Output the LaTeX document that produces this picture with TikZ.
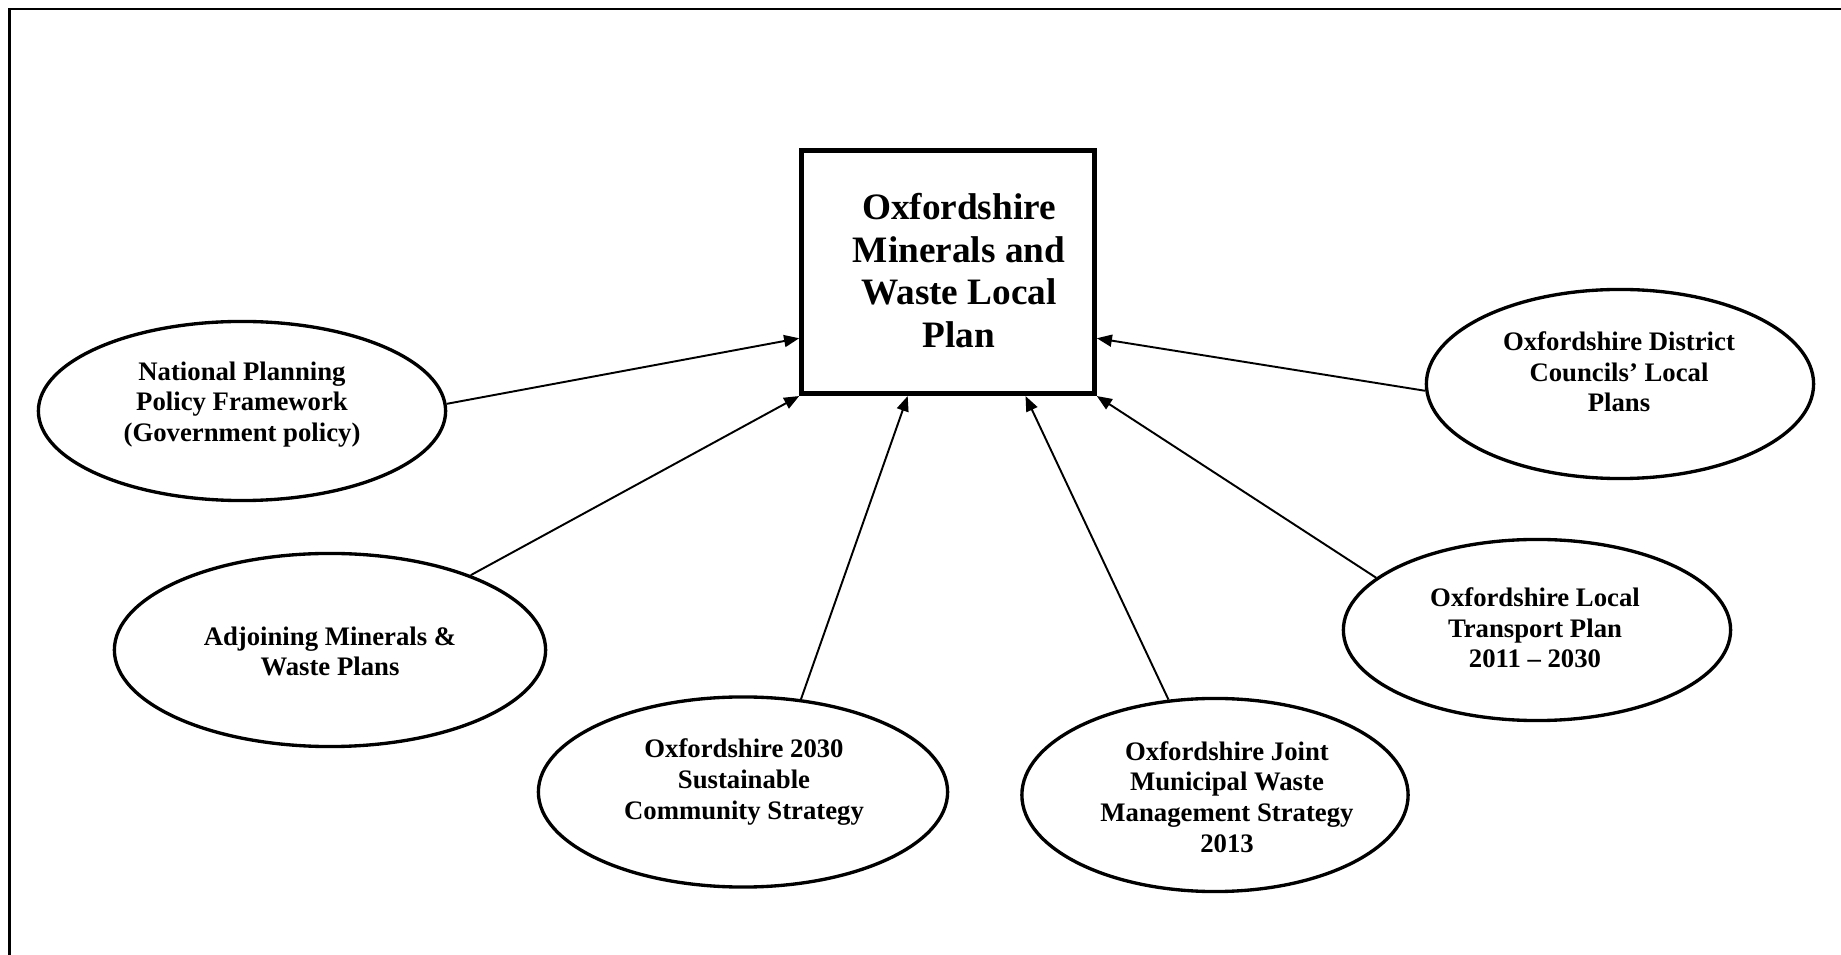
\documentclass[tikz,border=0pt]{standalone}
\usepackage{fontspec}
\setmainfont{Liberation Serif}
\usetikzlibrary{arrows.meta,shapes.geometric}
\begin{document}
\begin{tikzpicture}[x=0.01cm,y=-0.01cm,
  ell/.style={draw,ellipse,line width=0.95pt,inner sep=0pt},
  etxt/.style={align=center,inner sep=0pt,font=\bfseries\fontsize{7.6}{8.7}\selectfont},
  mainbox/.style={draw,rectangle,line width=1.4pt,inner sep=0pt,minimum width=2.925cm,minimum height=2.43cm},
  btxt/.style={align=center,inner sep=0pt,font=\bfseries\fontsize{10.6}{12.15}\selectfont},
  conn/.style={line width=0.55pt,-{Triangle[length=4.3pt,width=3.4pt]}}]
\useasboundingbox (0,0) rectangle (1841,955);
\draw[line width=0.6pt] (1841,9) -- (9.5,9) -- (9.5,955);

\node[mainbox] (box) at (948,272) {};
\node[btxt] (boxt) at (959,270.5) {Oxfordshire\\Minerals and\\Waste Local\\Plan};

\node[ell,minimum width=4.07cm,minimum height=1.79cm] (e1) at (242,411) {};
\node[etxt] (t1) at (242,404.5) {National Planning\\Policy Framework\\(Government policy)};

\node[ell,minimum width=4.31cm,minimum height=1.93cm] (e2) at (330,650) {};
\node[etxt] (t2) at (330,651.5) {Adjoining Minerals \&\\Waste Plans};

\node[ell,minimum width=4.09cm,minimum height=1.90cm] (e3) at (743,792) {};
\node[etxt] (t3) at (744,782) {Oxfordshire 2030\\Sustainable\\Community Strategy};

\node[ell,minimum width=3.86cm,minimum height=1.93cm] (e4) at (1215,795) {};
\node[etxt] (t4) at (1227,797) {Oxfordshire Joint\\Municipal Waste\\Management Strategy\\2013};

\node[ell,minimum width=3.87cm,minimum height=1.81cm] (e5) at (1537,630) {};
\node[etxt] (t5) at (1535,628) {Oxfordshire Local\\Transport Plan\\2011 -- 2030};

\node[ell,minimum width=3.87cm,minimum height=1.89cm] (e6) at (1620,384) {};
\node[etxt] (t6) at (1619,372) {Oxfordshire District\\Councils’ Local\\Plans};

\draw[conn] (e1.2) -- (box.204);
\draw[conn] (e2.28) -- (box.south west);
\draw[conn] (e3.58) -- (box.252);
\draw[conn] (e4.116) -- (box.302);
\draw[conn] (e5.162) -- (box.south east);
\draw[conn] (e6.182) -- (box.336);
\end{tikzpicture}
\end{document}
